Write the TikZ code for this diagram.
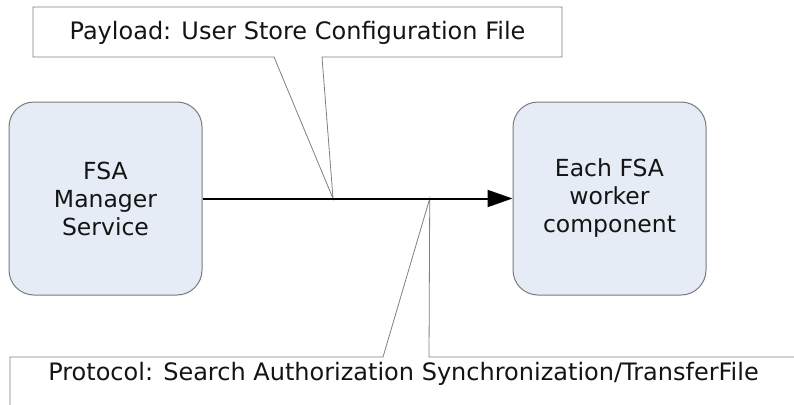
\documentclass[tikz,border=0pt]{standalone}
\usepackage{fontspec}
\setmainfont{DejaVu Sans}
\usetikzlibrary{arrows.meta,calc}
\definecolor{boxfill}{HTML}{E6ECF6}
\definecolor{boxline}{HTML}{7A7A7A}
\definecolor{calline}{HTML}{808080}
\definecolor{txt}{HTML}{141414}
\begin{document}
\begin{tikzpicture}[x=1pt,y=-1pt,
  font=\fontsize{24}{28}\selectfont,
  svc/.style={draw=boxline, line width=1pt, fill=boxfill, rounded corners=25pt,
    minimum width=193pt, minimum height=193pt, align=center, inner sep=0pt, text=txt,
    font=\fontsize{23.5}{28}\selectfont},
  callout/.style={draw=calline, line width=0.8pt, fill=white},
  lbl/.style={anchor=base, inner sep=0pt, text=txt},
  flow/.style={line width=2pt, -{Triangle[length=25pt,width=17pt]}}]
\useasboundingbox (0,0) rectangle (794,404);
\clip (0,0) rectangle (794,404);
\node[svc] (mgr) at (105.5,198.5) {FSA\\Manager\\Service};
\node[svc] (wrk) at (609.5,198.5) {Each FSA\\worker\\component};
\coordinate (ptop) at ($(mgr.east)!0.421!(wrk.west)$);
\coordinate (pbot) at ($(mgr.east)!0.733!(wrk.west)$);
\draw[callout] (33,7) -- (562,7) -- (562,57) -- (322,57) -- (ptop) -- (274,57) -- (33,57) -- cycle;
\node[lbl] (pay) at (297.5,39.5) {Payload: User Store Configuration File};
\draw[callout] (10,420) -- (10,357) -- (383,357) -- (pbot) -- (429,357) -- (810,357) -- (810,420) -- cycle;
\node[lbl] (proto) at (403.5,380.5) {Protocol: Search Authorization Synchronization/TransferFile};
\draw[flow] (mgr.east) -- (wrk.west);
\end{tikzpicture}
\end{document}
